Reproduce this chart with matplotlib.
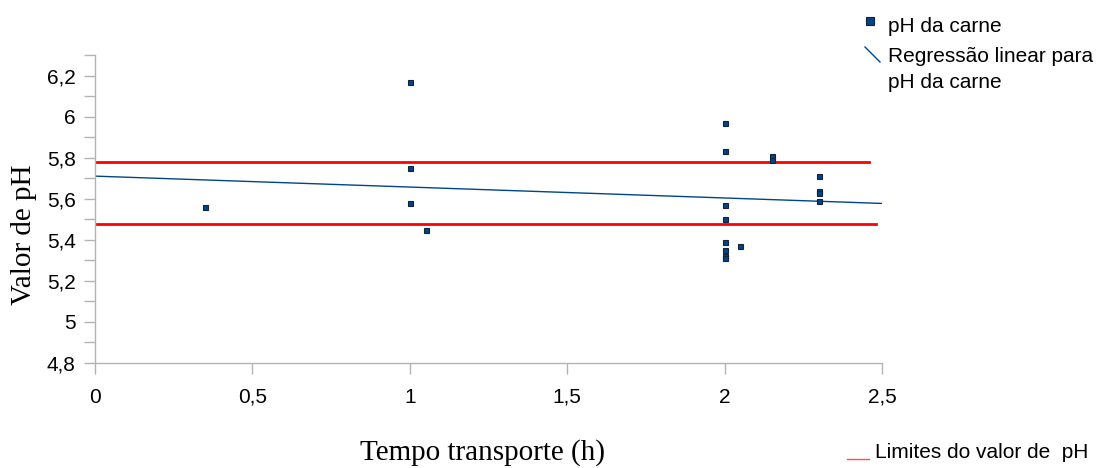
"""Tempo de transporte x pH da carne: dispersão com regressão e limites."""

import matplotlib.pyplot as plt
from matplotlib.lines import Line2D
from matplotlib.ticker import FuncFormatter, MultipleLocator

# dados
tempo = [0.35, 1.0, 1.0, 1.0, 1.05,
         2.0, 2.0, 2.0, 2.0, 2.0, 2.0, 2.0, 2.0,
         2.05, 2.15, 2.15, 2.3, 2.3, 2.3, 2.3]
ph = [5.56, 6.17, 5.75, 5.58, 5.45,
      5.97, 5.83, 5.57, 5.50, 5.39, 5.35, 5.32, 5.31,
      5.37, 5.81, 5.79, 5.71, 5.64, 5.63, 5.59]

# regressão linear (extremos)
reg_x = [0.0, 2.5]
reg_y = [5.71, 5.577]

# limites do valor de pH
lim_sup_x = [0.0, 2.46]
lim_sup_y = [5.78, 5.78]
lim_inf_x = [0.0, 2.48]
lim_inf_y = [5.475, 5.475]

y_ticks = [4.8, 5.0, 5.2, 5.4, 5.6, 5.8, 6.0, 6.2]

AZUL = "#004586"
CINZA = "#b3b3b3"
SERIF = ["Liberation Serif", "DejaVu Serif"]

plt.rcParams["font.family"] = ["Liberation Sans", "DejaVu Sans"]

fig = plt.figure(figsize=(11.04, 4.68), dpi=100)
ax = fig.add_axes([0.0861, 0.2244, 0.7128, 0.6581])

ax.plot(lim_sup_x, lim_sup_y, color="#ff0000", lw=2)
ax.plot(lim_inf_x, lim_inf_y, color="#ff0000", lw=2)
ax.plot(reg_x, reg_y, color=AZUL, lw=1)
ax.plot(tempo, ph, ls="none", marker="s", markersize=3.6,
        markerfacecolor=AZUL, markeredgecolor="#14213d", mew=0.8, zorder=5)

ax.set_xlim(0, 2.5)
ax.set_ylim(4.8, 6.3)
ax.xaxis.set_major_locator(MultipleLocator(0.5))
ax.set_yticks(y_ticks)
ax.yaxis.set_minor_locator(MultipleLocator(0.1))

fmt = FuncFormatter(lambda v, p: f"{v:g}".replace(".", ","))
ax.xaxis.set_major_formatter(fmt)
ax.yaxis.set_major_formatter(fmt)

for s in ["top", "right"]:
    ax.spines[s].set_visible(False)
for s in ["left", "bottom"]:
    ax.spines[s].set_color(CINZA)
    ax.spines[s].set_linewidth(1)

ax.tick_params(axis="both", which="both", colors=CINZA, labelcolor="black",
               labelsize=15, direction="out", length=8, width=1)
ax.tick_params(axis="x", pad=10)
ax.tick_params(axis="y", pad=6)

fig.text(0.022, 0.498, "Valor de pH", rotation=90, ha="center", va="center",
         family=SERIF, fontsize=21)
fig.text(0.4375, 0.034, "Tempo transporte (h)", ha="center", va="center",
         family=SERIF, fontsize=21)

# legenda desenhada à mão, como no original
fig.add_artist(Line2D([870 / 1104], [1 - 21 / 468], marker="s", markersize=6,
                      markerfacecolor=AZUL, markeredgecolor="#14213d", mew=0.8))
fig.text(888 / 1104, 1 - 26 / 468, "pH da carne", fontsize=15, va="center")
fig.add_artist(Line2D([865 / 1104, 880 / 1104], [1 - 47 / 468, 1 - 62 / 468],
                      color=AZUL, lw=1))
fig.text(888 / 1104, 1 - 56 / 468, "Regressão linear para", fontsize=15,
         va="center")
fig.text(888 / 1104, 1 - 83 / 468, "pH da carne", fontsize=15, va="center")

fig.add_artist(Line2D([847 / 1104, 869 / 1104], [1 - 459 / 468, 1 - 459 / 468],
                      color="#ff5050", lw=1))
fig.text(875 / 1104, 1 - 452 / 468, "Limites do valor de  pH", fontsize=15,
         va="center")

fig.savefig("out.png", dpi=100)
